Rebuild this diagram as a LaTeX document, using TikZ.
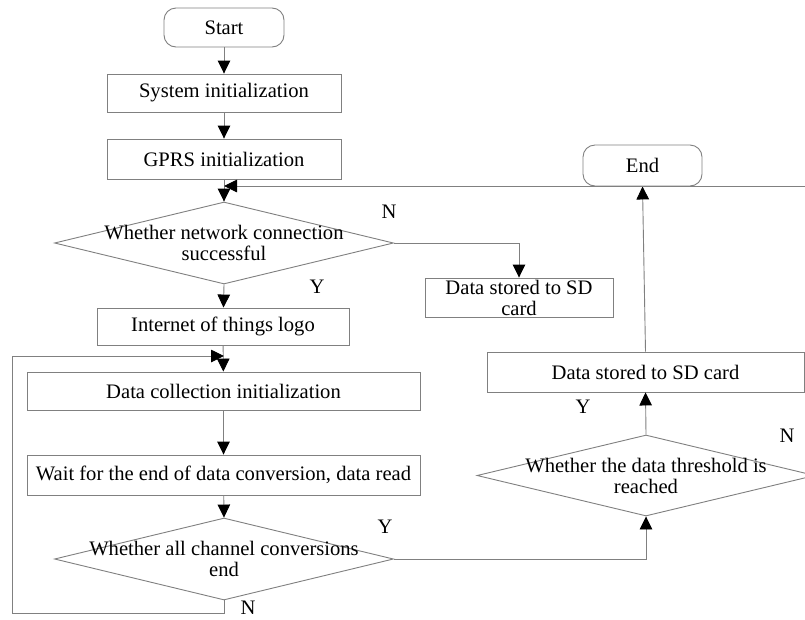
\documentclass[tikz,border=0pt]{standalone}
\usepackage{fontspec}
\setmainfont{Liberation Serif}
\usetikzlibrary{arrows.meta,shapes.geometric}
\definecolor{linegray}{RGB}{128,128,128}

\begin{document}
\begin{tikzpicture}[x=1pt,y=-1pt,
  txtfont/.style={font=\fontsize{20.6}{21}\selectfont},
  box/.style={draw=linegray, line width=0.9pt, rectangle, inner sep=0pt,
    align=center, txtfont},
  term/.style={box, rounded corners=12pt},
  dia/.style={draw=linegray, line width=0.9pt, diamond, inner sep=0pt},
  dtext/.style={align=center, inner sep=0pt, txtfont},
  lbl/.style={inner sep=0pt, txtfont},
  conn/.style={draw=linegray, line width=0.9pt},
  arr/.style={conn, -{Triangle[width=12.5pt,length=13pt,color=black]}}
]
\useasboundingbox (0,0) rectangle (805,619);
\clip (0,0) rectangle (805,619);
\fill[white] (0,0) rectangle (805,619);

% left column
\node[term, minimum width=120pt, minimum height=39pt] (start) at (224,27.5) {Start};
\node[box, minimum width=234pt, minimum height=38pt] (sys) at (224,93) {System initialization};
\node[box, minimum width=234pt, minimum height=40pt] (gprs) at (224,159) {GPRS initialization};
\node[dia, minimum width=339pt, minimum height=82pt] (d1) at (224,243) {};
\node[dtext] (d1t) at (d1.center) {Whether network connection\\successful};
\node[box, minimum width=188pt, minimum height=39pt] (sd1) at (519,297.5) {Data stored to SD\\card};
\node[box, minimum width=252pt, minimum height=37pt] (iot) at (223,326.5) {Internet of things logo};
\node[box, minimum width=393pt, minimum height=38pt] (dc) at (223.5,391) {Data collection initialization};
\node[box, minimum width=393pt, minimum height=40pt] (wait) at (223.5,475) {Wait for the end of data conversion, data read};
\node[dia, minimum width=339pt, minimum height=82pt] (d3) at (224,559) {};
\node[dtext] (d3t) at (d3.center) {Whether all channel conversions\\end};

% right column
\node[term, minimum width=119pt, minimum height=41pt] (end) at (642.5,165.5) {End};
\node[box, minimum width=317pt, minimum height=40pt] (sd2) at (645.5,372) {Data stored to SD card};
\node[dia, minimum width=338pt, minimum height=81pt] (d2) at (646,475.5) {};
\node[dtext] (d2t) at (d2.center) {Whether the data threshold is\\reached};

% branch labels
\node[lbl] (n1) at (389,212) {N};
\node[lbl] (y1) at (317,287) {Y};
\node[lbl] (y3) at (385,527) {Y};
\node[lbl] (n3) at (248,608) {N};
\node[lbl] (y2) at (583,407) {Y};
\node[lbl] (n2) at (787,436) {N};

% junction points
\coordinate (j1) at (224,186);
\coordinate (j2) at (224,356);

% main flow
\draw[arr] (start) -- (sys);
\draw[arr] (sys) -- (gprs);
\draw[arr] (gprs) -- (d1.north);
\draw[arr] (d1.east) -| (sd1.north);
\draw[arr] (d1.south) -- (iot);
\draw[arr] (iot) -- (dc);
\draw[arr] (dc) -- (wait);
\draw[arr] (wait) -- (d3.north);
\draw[arr] (d3.east) -| (d2.south);
\draw[arr] (d2.north) -- (sd2.south);
\draw[arr] (sd2.north) -- (end.south);

% loops back
\draw[arr] (d3.south) -- ++(0,13) -| (12,356) -- (j2);
\draw[arr] (d2.east) -- ++(25,0) |- (j1);
\end{tikzpicture}
\end{document}
